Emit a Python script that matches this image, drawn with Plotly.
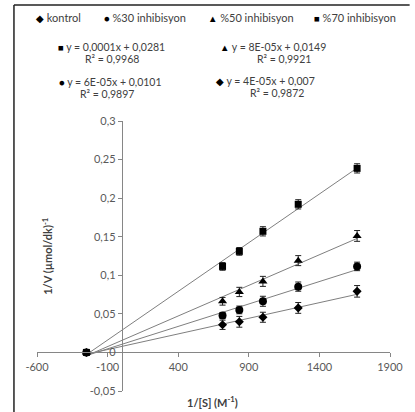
import numpy as np
import plotly.graph_objects as go

# ---- data ----
x_vals = [-250, 714, 833, 1000, 1250, 1667]

kontrol = [0, 0.0358, 0.0397, 0.0456, 0.0577, 0.0792]
kontrol_err = [0, 0.006, 0.007, 0.0065, 0.007, 0.0075]

inh30 = [0, 0.0478, 0.0551, 0.0663, 0.0853, 0.1115]
inh30_err = [0, 0.004, 0.005, 0.0065, 0.006, 0.0055]

inh50 = [0, 0.0663, 0.0784, 0.0921, 0.119, 0.151]
inh50_err = [0, 0.005, 0.006, 0.0065, 0.0065, 0.007]

inh70 = [0, 0.1115, 0.131, 0.157, 0.192, 0.2386]
inh70_err = [0, 0.005, 0.005, 0.006, 0.006, 0.006]

series_names = ["kontrol", "%30 inhibisyon", "%50 inhibisyon", "%70 inhibisyon"]
series_symbols = ["diamond", "circle", "triangle-up", "square"]
series_glyphs = ["\u25C6", "\u25CF", "\u25B2", "\u25A0"]

x_tickvals = [-600, -100, 400, 900, 1400, 1900]
x_ticktext = ["-600", "-100", "400", "900", "1400", "1900"]
y_tickvals = [-0.05, 0, 0.05, 0.1, 0.15, 0.2, 0.25, 0.3]
y_ticktext = ["-0,05", "0", "0,05", "0,1", "0,15", "0,2", "0,25", "0,3"]

equations = [
    ("\u25A0", "y = 0,0001x + 0,0281", "R\u00b2 = 0,9968"),
    ("\u25B2", "y = 8E-05x + 0,0149", "R\u00b2 = 0,9921"),
    ("\u25CF", "y = 6E-05x + 0,0101", "R\u00b2 = 0,9897"),
    ("\u25C6", "y = 4E-05x + 0,007", "R\u00b2 = 0,9872"),
]

x_title = "1/[S] (M<sup>-1</sup>)"
y_title = "1/V (\u00b5mol/dk)<sup>-1</sup>"

# ---- layout geometry ----
W, H = 415, 412
ML, MR, MT, MB = 37, 18, 121, 21
XR = [-600, 1900]
YR = [-0.05, 0.3]
PW = W - ML - MR
PH = H - MT - MB


def px(xp):
    return (xp - ML) / PW


def py(yp):
    return (H - MB - yp) / PH


FONT = "Lato, 'Liberation Sans', Arial, sans-serif"
TXT = "#404040"


def glyph(g):
    return "<span style='font-size:9.5px;color:black'>" + g + "</span>"


fig = go.Figure()

ys_all = [kontrol, inh30, inh50, inh70]
errs_all = [kontrol_err, inh30_err, inh50_err, inh70_err]
sizes = [7, 8, 8, 7]

# trendlines (least squares on data)
xs = np.array(x_vals, dtype=float)
for ys in ys_all:
    a, b = np.polyfit(xs, np.array(ys), 1)
    xl = np.array([xs.min(), xs.max()])
    fig.add_trace(go.Scatter(x=xl, y=a * xl + b, mode="lines",
                             line=dict(color="#7f7f7f", width=1),
                             showlegend=False, hoverinfo="skip"))

for name, sym, ys, errs, sz in zip(series_names, series_symbols, ys_all, errs_all, sizes):
    fig.add_trace(go.Scatter(
        x=x_vals, y=ys, mode="markers", name=name,
        marker=dict(symbol=sym, size=sz, color="black"),
        error_y=dict(type="data", array=errs, visible=True, color="#222222",
                     thickness=1, width=3),
        showlegend=False))

annotations = []
# legend row
leg_x = [34, 103, 209, 317]
for g, n, lx in zip(series_glyphs, series_names, leg_x):
    annotations.append(dict(x=px(lx), y=py(18), xref="paper", yref="paper",
                            text=glyph(g) + " " + n, showarrow=False, xanchor="left",
                            yanchor="middle", font=dict(family=FONT, size=11, color=TXT)))

eq_pos = [(56, 47, 84, 59), (222, 47, 259, 59), (57, 82, 79, 94), (217, 81, 252, 93)]
for (g, eq, r2), (ex, ey, rx, ry) in zip(equations, eq_pos):
    annotations.append(dict(x=px(ex), y=py(ey), xref="paper", yref="paper",
                            text=glyph(g) + " " + eq,
                            showarrow=False, xanchor="left", yanchor="middle",
                            font=dict(family=FONT, size=10.5, color=TXT)))
    annotations.append(dict(x=px(rx), y=py(ry), xref="paper", yref="paper", text=r2,
                            showarrow=False, xanchor="left", yanchor="middle",
                            font=dict(family=FONT, size=10.5, color=TXT)))

annotations.append(dict(x=px(216), y=py(401), xref="paper", yref="paper", text="<b>" + x_title + "</b>",
                        showarrow=False, xanchor="center", yanchor="middle",
                        font=dict(family=FONT, size=11, color=TXT)))
annotations.append(dict(x=px(47), y=py(256), xref="paper", yref="paper", text="<b>" + y_title + "</b>",
                        showarrow=False, xanchor="center", yanchor="middle", textangle=-90,
                        font=dict(family=FONT, size=11, color=TXT)))

shapes = [
    dict(type="line", xref="paper", yref="paper", x0=px(13.5), x1=px(13.5), y0=py(5), y1=py(H + 2),
         line=dict(color="#222222", width=1.5)),
    dict(type="line", xref="paper", yref="paper", x0=px(13.5), x1=px(W + 2), y0=py(5), y1=py(5),
         line=dict(color="#222222", width=1.5)),
]

fig.update_layout(
    width=W, height=H,
    margin=dict(l=ML, r=MR, t=MT, b=MB),
    paper_bgcolor="white", plot_bgcolor="white",
    font=dict(family=FONT, size=11, color=TXT),
    showlegend=False,
    annotations=annotations,
    shapes=shapes,
    xaxis=dict(range=XR, domain=[0, 1], anchor="free",
               position=(0 - YR[0]) / (YR[1] - YR[0]),
               tickvals=x_tickvals, ticktext=x_ticktext,
               showline=True, linecolor="#868686", linewidth=1,
               ticks="outside", ticklen=4, tickcolor="#868686",
               showgrid=False, zeroline=False,
               tickfont=dict(family=FONT, size=11, color="#595959")),
    yaxis=dict(range=YR, domain=[0, 1], anchor="free",
               position=(0 - XR[0]) / (XR[1] - XR[0]),
               tickvals=y_tickvals, ticktext=y_ticktext,
               showline=True, linecolor="#868686", linewidth=1,
               ticks="outside", ticklen=4, tickcolor="#868686",
               showgrid=False, zeroline=False,
               tickfont=dict(family=FONT, size=11, color="#595959")),
)

fig.write_html("out.html")
